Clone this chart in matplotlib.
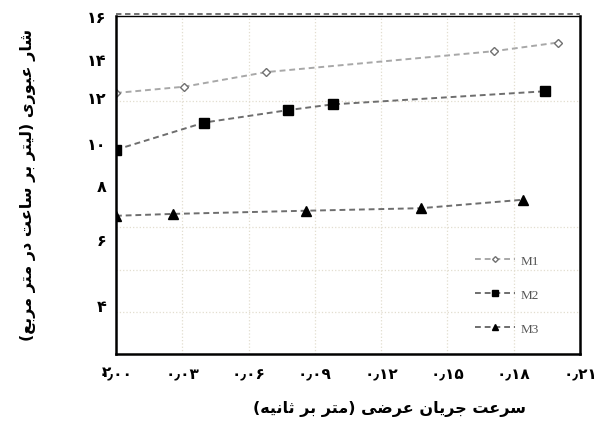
import matplotlib
matplotlib.use('Agg')
import matplotlib.pyplot as plt
from matplotlib.lines import Line2D
import numpy as np

# data
m1_x = [0.0, 0.031, 0.068, 0.171, 0.200]
m1_y = [12.37, 12.67, 13.36, 14.35, 14.76]
m2_x = [0.0, 0.040, 0.078, 0.098, 0.194]
m2_y = [9.68, 10.97, 11.56, 11.83, 12.45]
m3_x = [0.0, 0.026, 0.086, 0.138, 0.184]
m3_y = [6.55, 6.64, 6.79, 6.91, 7.31]
series_names = ['M1', 'M2', 'M3']

x_ticks = [0.0, 0.03, 0.06, 0.09, 0.12, 0.15, 0.18, 0.21]
x_tick_labels = ['۰٫۰۰', '۰٫۰۳', '۰٫۰۶', '۰٫۰۹', '۰٫۱۲', '۰٫۱۵', '۰٫۱۸', '۰٫۲۱']
# labels sit where the original put them (not all on the grid lines)
y_ticks = [16, 14, 12.2, 10, 8, 5.45, 2.3]
y_tick_labels = ['۱۶', '۱۴', '۱۲', '۱۰', '۸', '۶', '۴']

x_label = 'سرعت جریان عرضی (متر بر ثانیه)'
y_label = 'شار عبوری (لیتر بر ساعت در متر مربع)'

# isolated, final, initial, medial
FORMS = {
    'ا': ('\uFE8D', '\uFE8E', None, None),
    'ب': ('\uFE8F', '\uFE90', '\uFE91', '\uFE92'),
    'ت': ('\uFE95', '\uFE96', '\uFE97', '\uFE98'),
    'ث': ('\uFE99', '\uFE9A', '\uFE9B', '\uFE9C'),
    'ج': ('\uFE9D', '\uFE9E', '\uFE9F', '\uFEA0'),
    'د': ('\uFEA9', '\uFEAA', None, None),
    'ر': ('\uFEAD', '\uFEAE', None, None),
    'س': ('\uFEB1', '\uFEB2', '\uFEB3', '\uFEB4'),
    'ش': ('\uFEB5', '\uFEB6', '\uFEB7', '\uFEB8'),
    'ض': ('\uFEBD', '\uFEBE', '\uFEBF', '\uFEC0'),
    'ع': ('\uFEC9', '\uFECA', '\uFECB', '\uFECC'),
    'ل': ('\uFEDD', '\uFEDE', '\uFEDF', '\uFEE0'),
    'م': ('\uFEE1', '\uFEE2', '\uFEE3', '\uFEE4'),
    'ن': ('\uFEE5', '\uFEE6', '\uFEE7', '\uFEE8'),
    'ه': ('\uFEE9', '\uFEEA', '\uFEEB', '\uFEEC'),
    'و': ('\uFEED', '\uFEEE', None, None),
    'ی': ('\uFEEF', '\uFEF0', '\uFEF3', '\uFEF4'),
}


def shape(text):
    out = []
    for i, ch in enumerate(text):
        if ch not in FORMS:
            out.append(ch)
            continue
        prev = text[i - 1] if i > 0 else ''
        nxt = text[i + 1] if i + 1 < len(text) else ''
        join_prev = prev in FORMS and FORMS[prev][2] is not None
        join_next = FORMS[ch][2] is not None and nxt in FORMS
        iso, fin, ini, med = FORMS[ch]
        if join_prev and join_next:
            out.append(med)
        elif join_prev:
            out.append(fin)
        elif join_next:
            out.append(ini)
        else:
            out.append(iso)
    s = ''.join(out)[::-1]
    return s.translate(str.maketrans('()', ')('))


fa = ['DejaVu Sans']

fig = plt.figure(figsize=(5.96, 4.27), dpi=100)
ax = fig.add_axes([0.1946, 0.1686, 0.7786, 0.7907])

ax.plot(m1_x, m1_y, linestyle=(0, (3, 2)), color='#a8a8a8', lw=1.4,
        marker='D', ms=4.5, mfc='white', mec='#707070', mew=1.0, label=series_names[0])
ax.plot(m2_x, m2_y, linestyle=(0, (3, 2)), color='#6e6e6e', lw=1.4,
        marker='s', ms=7, mfc='black', mec='black', label=series_names[1])
ax.plot(m3_x, m3_y, linestyle=(0, (3, 2)), color='#6e6e6e', lw=1.4,
        marker='^', ms=7.5, mfc='black', mec='black', label=series_names[2])

ax.set_xlim(0, 0.21)
ax.set_ylim(0, 16)

ax.set_xticks(x_ticks)
ax.set_xticklabels(x_tick_labels, family=fa, fontweight='bold', fontsize=11)
ax.set_yticks(y_ticks)
ax.set_yticklabels(y_tick_labels, family=fa, fontweight='bold', fontsize=11.5)
ax.set_yticks(np.arange(0, 17, 2), minor=True)
ax.tick_params(which='both', length=0)
ax.tick_params(axis='y', pad=7)
ax.tick_params(axis='x', pad=9)
# the lonely "2" sits down next to the first x label
ax.text(-0.01, -0.85, '۲', transform=ax.get_yaxis_transform(), ha='right',
        va='center', family=fa, fontweight='bold', fontsize=11)

ax.grid(which='major', axis='x', color='#e2ddcf', linestyle=':', lw=0.9)
ax.grid(which='minor', axis='y', color='#e2ddcf', linestyle=':', lw=0.9)
ax.grid(which='major', axis='y', visible=False)

for side in ['left', 'right', 'bottom', 'top']:
    ax.spines[side].set_linewidth(1.8)
ax.spines['top'].set_linewidth(1.0)
# dashed rule riding on the top edge
ax.add_line(Line2D([0, 1], [1.006, 1.006], transform=ax.transAxes, color='#666666',
                   lw=1.3, linestyle=(0, (3, 2)), clip_on=False))

ax.set_xlabel(shape(x_label), family=fa, fontweight='bold', fontsize=11.5)
ax.xaxis.set_label_coords(0.59, -0.135)
ax.xaxis.label.set_va('top')
ax.set_ylabel(shape(y_label), family=fa, fontweight='bold', fontsize=11.5)
ax.yaxis.set_label_coords(-0.172, 0.505)

leg = ax.legend(loc='center', bbox_to_anchor=(0.843, 0.175), frameon=False,
                prop={'family': 'Liberation Serif', 'size': 9.5}, handlelength=3.0,
                labelspacing=1.65, handletextpad=0.4, markerscale=0.65)
for t in leg.get_texts():
    t.set_color('#555555')

fig.savefig('out.png', dpi=100)
